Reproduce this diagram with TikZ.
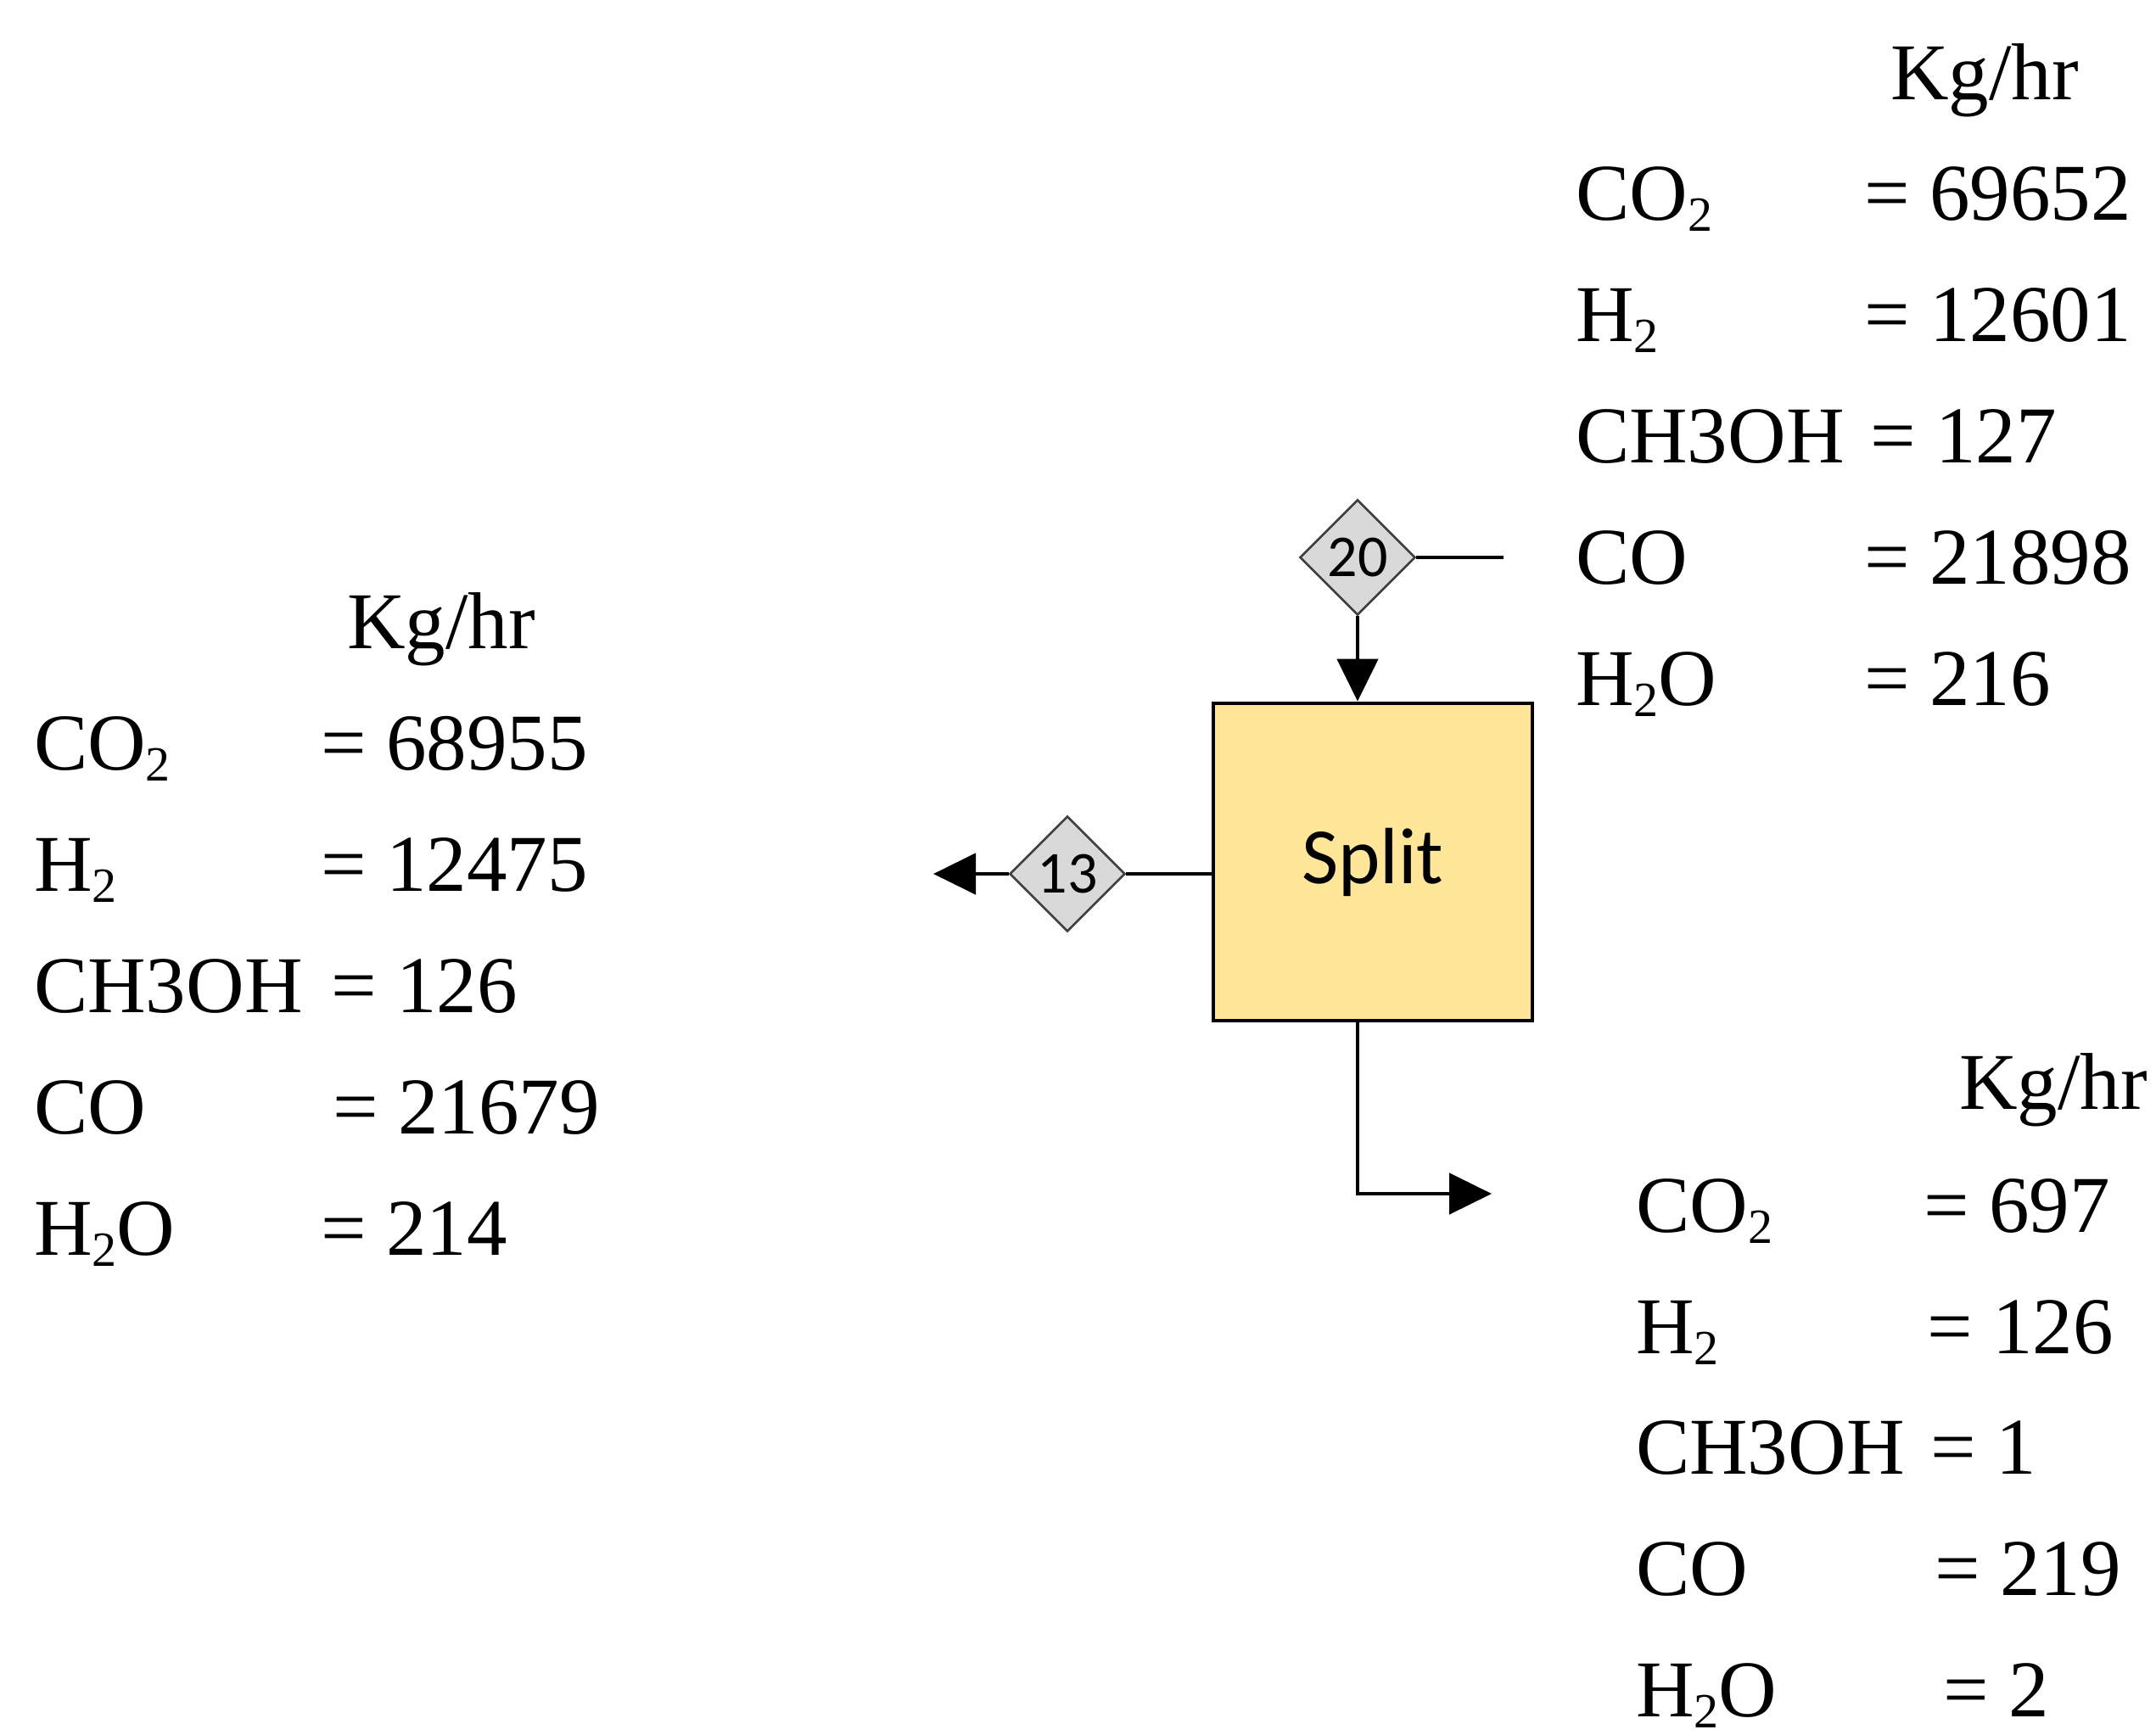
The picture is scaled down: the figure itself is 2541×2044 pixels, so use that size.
\documentclass[tikz,border=0pt]{standalone}
\usepackage{fontspec}
\setmainfont{Liberation Serif}
\newfontfamily\calibri{Carlito}
\usetikzlibrary{shapes.geometric,arrows.meta}
\definecolor{boxfill}{HTML}{FFE699}
\definecolor{dfill}{HTML}{D9D9D9}
\definecolor{dborder}{HTML}{404040}
\newcommand{\sbt}{\raisebox{-6.5pt}{\fontsize{29}{29}\selectfont 2}}
\begin{document}
\begin{tikzpicture}[x=0.5pt,y=-0.5pt,
  txt/.style={anchor=base west, inner sep=0pt, outer sep=0pt, font=\fontsize{47.5}{50}\selectfont},
  unitbox/.style={draw=black, line width=2.4pt, fill=boxfill, minimum width=188pt, minimum height=187pt, inner sep=0pt, font=\calibri\fontsize{47}{49}\selectfont},
  stream/.style={diamond, draw=dborder, line width=1.3pt, fill=dfill, minimum width=68pt, minimum height=68pt, inner sep=0pt, aspect=1, font=\calibri\fontsize{35}{36}\selectfont},
  pipe/.style={line width=2.4pt},
  flow/.style={line width=2.4pt, -{Triangle[length=25pt,width=24pt]}}
]
\useasboundingbox (0,0) rectangle (2541,2044);

% unit and streams
\node[unitbox] (split) at (1618,1016) {Split};
\node[stream] (d20) at (1600,657) {20};
\node[stream] (d13) at (1258,1030) {13};
\coordinate (feedend) at (1772,657);
\coordinate (lefttip) at (1100,1030);
\coordinate (bend) at (1600,1407);
\coordinate (righttip) at (1758,1407);

\draw[pipe] (d20.east) -- (feedend);
\draw[flow] (d20.south) -- (d20.south |- split.north);
\draw[pipe] (split.west |- d13.east) -- (d13.east);
\draw[flow] (d13.west) -- (lefttip);
\draw[flow] (split.south -| bend) -- (bend) -- (righttip);

% left block
\node[txt] (lk) at (409,764) {Kg/hr};
\node[txt] (l1) at (40,907) {CO\sbt};
\node[txt] (lv1) at (378,907) {= 68955};
\node[txt] (l2) at (40,1050) {H\sbt};
\node[txt] (lv2) at (378,1050) {= 12475};
\node[txt] (l3) at (40,1193) {CH3OH};
\node[txt] (lv3) at (390,1193) {= 126};
\node[txt] (l4) at (40,1336) {CO};
\node[txt] (lv4) at (392,1336) {= 21679};
\node[txt] (l5) at (40,1479) {H\sbt O};
\node[txt] (lv5) at (378,1479) {= 214};

% top right block
\node[txt] (tk) at (2228,118) {Kg/hr};
\node[txt] (t1) at (1857,259) {CO\sbt};
\node[txt] (tv1) at (2197,259) {= 69652};
\node[txt] (t2) at (1857,402) {H\sbt};
\node[txt] (tv2) at (2197,402) {= 12601};
\node[txt] (t3) at (1857,545) {CH3OH};
\node[txt] (tv3) at (2204,545) {= 127};
\node[txt] (t4) at (1857,688) {CO};
\node[txt] (tv4) at (2197,688) {= 21898};
\node[txt] (t5) at (1857,831) {H\sbt O};
\node[txt] (tv5) at (2197,831) {= 216};

% bottom right block
\node[txt] (bk) at (2309,1307) {Kg/hr};
\node[txt] (b1) at (1928,1452) {CO\sbt};
\node[txt] (bv1) at (2267,1452) {= 697};
\node[txt] (b2) at (1928,1595) {H\sbt};
\node[txt] (bv2) at (2271,1595) {= 126};
\node[txt] (b3) at (1928,1737) {CH3OH};
\node[txt] (bv3) at (2275,1737) {= 1};
\node[txt] (b4) at (1928,1880) {CO};
\node[txt] (bv4) at (2280,1880) {= 219};
\node[txt] (b5) at (1928,2023) {H\sbt O};
\node[txt] (bv5) at (2290,2023) {= 2};
\end{tikzpicture}
\end{document}
